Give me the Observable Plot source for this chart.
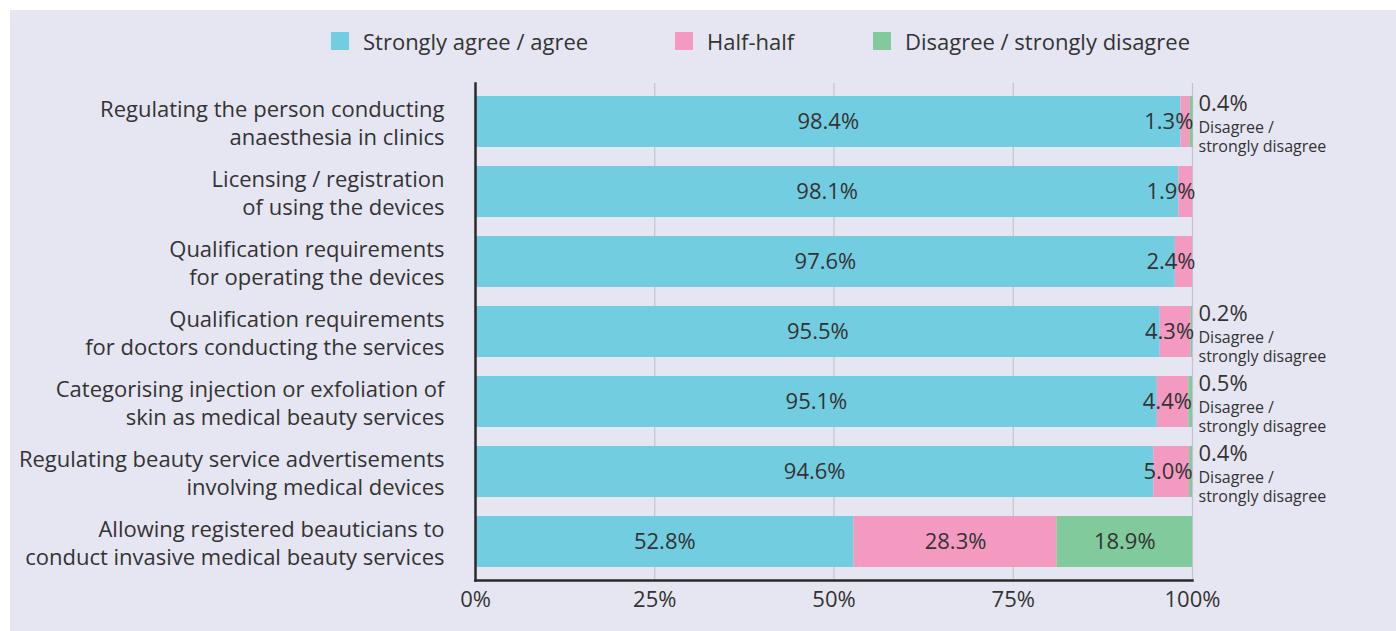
<!DOCTYPE html>
<html>
<head>
<meta charset="utf-8">
<script src="https://cdn.jsdelivr.net/npm/d3@7"></script>
<script src="https://cdn.jsdelivr.net/npm/@observablehq/plot@0.6"></script>
<style>
  html, body { margin: 0; padding: 0; background: #ffffff; }
  #panel { position: absolute; left: 10px; top: 10px; width: 1386px; height: 621px; background: #e6e6f2; overflow: hidden;
           font-family: "Open Sans", sans-serif; color: #333; }
  #legend { position: absolute; left: 0; top: 0; width: 100%; height: 60px; }
  .item { position: absolute; top: 19px; display: flex; align-items: center; font-size: 22px; line-height: 24px; }
  .sw { width: 18px; height: 18px; margin-right: 14px; }
  #chart { position: absolute; left: 0; top: 60px; }
</style>
</head>
<body>
<div id="panel">
  <div id="legend"></div>
  <div id="chart"></div>
</div>
<script>
const categories = [
  "Regulating the person conducting\nanaesthesia in clinics",
  "Licensing / registration\nof using the devices",
  "Qualification requirements\nfor operating the devices",
  "Qualification requirements\nfor doctors conducting the services",
  "Categorising injection or exfoliation of\nskin as medical beauty services",
  "Regulating beauty service advertisements\ninvolving medical devices",
  "Allowing registered beauticians to\nconduct invasive medical beauty services"
];
const agree    = [98.4, 98.1, 97.6, 95.5, 95.1, 94.6, 52.8];
const half     = [1.3, 1.9, 2.4, 4.3, 4.4, 5.0, 28.3];
const disagree = [0.4, 0, 0, 0.2, 0.5, 0.4, 18.9];
const seriesNames = ["Strongly agree / agree", "Half-half", "Disagree / strongly disagree"];
const seriesColors = ["#73cde0", "#f49ac1", "#81ca9b"];
const xTicks = [0, 25, 50, 75, 100];
const disagreeNote = "Disagree /\nstrongly disagree";

const rows = categories.map((c, i) => ({cat: c, agree: agree[i], half: half[i], disagree: disagree[i]}));
const long = [];
rows.forEach(r => {
  long.push({cat: r.cat, series: seriesNames[0], value: r.agree});
  long.push({cat: r.cat, series: seriesNames[1], value: r.half});
  long.push({cat: r.cat, series: seriesNames[2], value: r.disagree});
});
const fmt = v => v.toFixed(1) + "%";

// legend
const legendLeft = [321, 665, 863];
const legend = document.getElementById("legend");
seriesNames.forEach((s, i) => {
  const it = document.createElement("div");
  it.className = "item";
  it.style.left = legendLeft[i] + "px";
  it.innerHTML = `<div class="sw" style="background:${seriesColors[i]}"></div><span>${s}</span>`;
  legend.appendChild(it);
});

const small = rows.filter(d => d.disagree > 0 && d.disagree < 10);

const chart = Plot.plot({
  width: 1386,
  height: 561,
  marginLeft: 465,
  marginRight: 204,
  marginTop: 13,
  marginBottom: 51,
  style: {fontFamily: "'Open Sans', sans-serif", fontSize: "22px", color: "#333", background: "transparent", overflow: "visible"},
  x: {domain: [0, 100], ticks: xTicks},
  y: {domain: categories, paddingInner: 0.275, paddingOuter: 0.17, label: null},
  color: {domain: seriesNames, range: seriesColors},
  marks: [
    Plot.gridX(xTicks.filter(t => t > 0), {stroke: "#c4c4cc", strokeOpacity: 1, strokeWidth: 1.2}),
    Plot.barX(long, Plot.stackX({x: "value", y: "cat", fill: "series", order: seriesNames, offset: null})),
    Plot.text(rows, {x: d => d.agree / 2, y: "cat", text: d => fmt(d.agree), fill: "#333", fontSize: 22}),
    Plot.text(rows.filter(d => d.half < 10), {x: d => d.agree + d.half, y: "cat", text: d => fmt(d.half), fill: "#333", fontSize: 22, textAnchor: "end", dx: 3}),
    Plot.text(rows.filter(d => d.half >= 10), {x: d => d.agree + d.half / 2, y: "cat", text: d => fmt(d.half), fill: "#333", fontSize: 22}),
    Plot.text(rows.filter(d => d.disagree >= 10), {x: d => d.agree + d.half + d.disagree / 2, y: "cat", text: d => fmt(d.disagree), fill: "#333", fontSize: 22}),
    Plot.text(small, {x: 100, y: "cat", text: d => fmt(d.disagree), fill: "#333", fontSize: 22, textAnchor: "start", dx: 6, dy: -18}),
    Plot.text(small, {x: 100, y: "cat", text: () => disagreeNote, fill: "#333", fontSize: 16, lineHeight: 1.2, textAnchor: "start", dx: 6, dy: 14}),
    Plot.axisX({ticks: xTicks, tickSize: 0, tickPadding: 11, tickFormat: d => d + "%", fontSize: 22, label: null, fill: "#333"}),
    Plot.axisY({tickSize: 0, tickPadding: 31, fontSize: 22, lineHeight: 1.27, label: null, fill: "#333"}),
    Plot.frame({anchor: "bottom", stroke: "#2a2a2a", strokeWidth: 2.5}),
    Plot.frame({anchor: "left", stroke: "#2a2a2a", strokeWidth: 2.5})
  ]
});
document.getElementById("chart").appendChild(chart);
</script>
</body>
</html>
